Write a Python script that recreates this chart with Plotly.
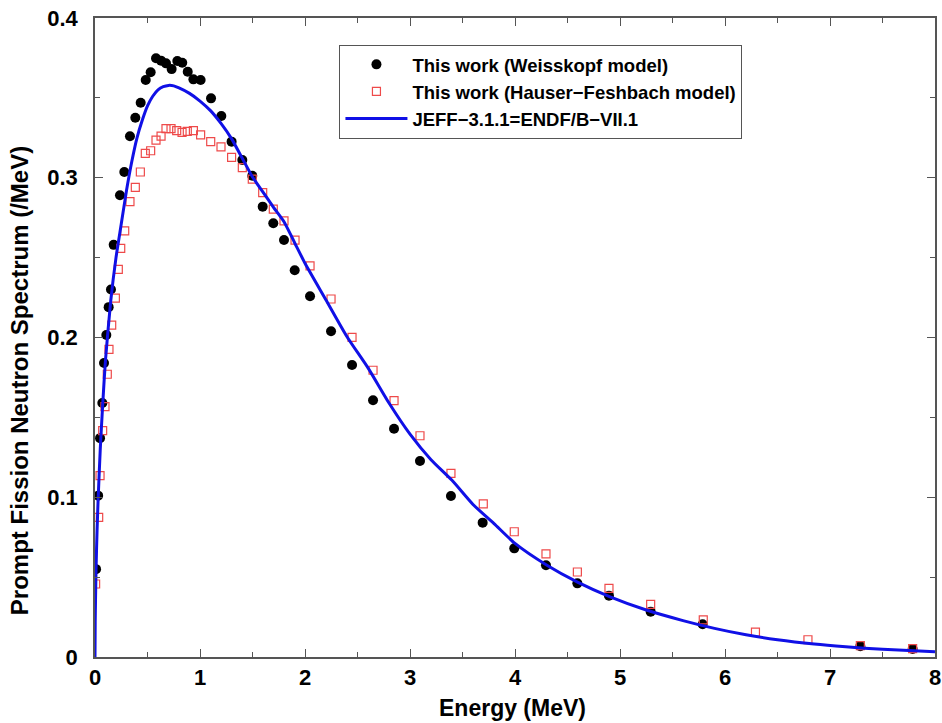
import plotly.graph_objects as go

# Weisskopf model (black dots)
weis_e = [0.01, 0.03, 0.048, 0.07, 0.086, 0.108, 0.13, 0.152, 0.178, 0.238, 0.279, 0.333,
          0.384, 0.435, 0.483, 0.530, 0.581, 0.629, 0.676, 0.730, 0.784, 0.831, 0.883, 0.937,
          1.006, 1.105, 1.203, 1.301, 1.403, 1.498, 1.597, 1.698, 1.8, 1.902, 2.048, 2.248,
          2.448, 2.648, 2.848, 3.095, 3.39, 3.692, 3.993, 4.295, 4.594, 4.895, 5.292, 5.787,
          7.289, 7.787]
weis_v = [0.055, 0.101, 0.137, 0.159, 0.184, 0.2016, 0.219, 0.230, 0.258, 0.289, 0.3036, 0.326,
          0.3376, 0.347, 0.3612, 0.366, 0.3748, 0.3733, 0.3716, 0.368, 0.3731, 0.372, 0.3664, 0.3616,
          0.3612, 0.3497, 0.3387, 0.3226, 0.3111, 0.3013, 0.2819, 0.2715, 0.261, 0.2421, 0.2258, 0.2039,
          0.1828, 0.1607, 0.1429, 0.1227, 0.1008, 0.0841, 0.068, 0.0574, 0.0461, 0.0384, 0.0284, 0.0205,
          0.0068, 0.0050]

# Hauser-Feshbach model (open red squares)
hf_e = [0.006, 0.035, 0.048, 0.073, 0.095, 0.117, 0.133, 0.159, 0.194, 0.222, 0.245, 0.283,
        0.333, 0.384, 0.432, 0.479, 0.530, 0.581, 0.629, 0.676, 0.724, 0.778, 0.829, 0.879,
        0.937, 1.006, 1.102, 1.2, 1.301, 1.403, 1.498, 1.597, 1.698, 1.8, 1.905, 2.048,
        2.248, 2.448, 2.648, 2.848, 3.095, 3.39, 3.698, 3.993, 4.295, 4.594, 4.895, 5.292,
        5.793, 6.29, 6.79, 7.289, 7.787]
hf_v = [0.0457, 0.0874, 0.1135, 0.1417, 0.1567, 0.177, 0.1926, 0.2078, 0.2247, 0.2427, 0.2558, 0.2667,
        0.285, 0.294, 0.3036, 0.3153, 0.3169, 0.3236, 0.3261, 0.3307, 0.3307, 0.3295, 0.3284, 0.329,
        0.3295, 0.3268, 0.3226, 0.3193, 0.3128, 0.3063, 0.2992, 0.2907, 0.2803, 0.273, 0.261, 0.2448,
        0.2241, 0.2001, 0.1795, 0.1605, 0.1385, 0.115, 0.0958, 0.0784, 0.0645, 0.0532, 0.043, 0.033,
        0.0232, 0.0156, 0.0108, 0.0071, 0.0052]

# JEFF-3.1.1 = ENDF/B-VII.1 evaluation (blue line)
jeff_e = [0.0, 0.002, 0.005, 0.01, 0.02, 0.03, 0.05, 0.075, 0.1, 0.15, 0.2, 0.25, 0.3, 0.35,
          0.4, 0.45, 0.5, 0.55, 0.6, 0.65, 0.7, 0.75, 0.8, 0.9, 1.0, 1.1, 1.2, 1.3, 1.4, 1.5,
          1.6, 1.7, 1.8, 1.9, 2.0, 2.2, 2.4, 2.6, 2.8, 3.0, 3.2, 3.4, 3.6, 3.8, 4.0, 4.3, 4.6,
          4.9, 5.25, 5.6, 5.9, 6.2, 6.5, 6.85, 7.15, 7.5, 8.0]
jeff_v = [0.0, 0.022, 0.036, 0.055, 0.080, 0.099, 0.130, 0.160, 0.186, 0.223, 0.250, 0.271, 0.292, 0.310,
          0.325, 0.336, 0.345, 0.351, 0.355, 0.357, 0.3578, 0.3575, 0.3562, 0.3528, 0.348, 0.342, 0.334, 0.3245,
          0.3125, 0.3005, 0.291, 0.2815, 0.2725, 0.2595, 0.2465, 0.2235, 0.2005, 0.181, 0.159, 0.1395,
          0.1235, 0.1106, 0.0955, 0.0835, 0.0711, 0.0576, 0.0467, 0.0378, 0.0294, 0.0228, 0.0179, 0.0139,
          0.0108, 0.0081, 0.0064, 0.0048, 0.0033]

x_title = "Energy (MeV)"
y_title = "Prompt Fission Neutron Spectrum (/MeV)"

FONT = "Liberation Sans, Arial, Helvetica, sans-serif"

fig = go.Figure()
fig.add_trace(go.Scatter(
    x=weis_e, y=weis_v, mode="markers", name="This work (Weisskopf model)",
    marker=dict(symbol="circle", size=10, color="black", line=dict(width=0)),
))
fig.add_trace(go.Scatter(
    x=hf_e, y=hf_v, mode="markers", name="This work (Hauser−Feshbach model)",
    marker=dict(symbol="square-open", size=8, color="#ee4a4a", line=dict(width=1.2)),
))
fig.add_trace(go.Scatter(
    x=jeff_e, y=jeff_v, mode="lines", name="JEFF−3.1.1=ENDF/B−VII.1",
    line=dict(color="#1010e6", width=3, shape="spline", smoothing=0.6),
))

axis_common = dict(
    showgrid=False, zeroline=False, showline=True, linecolor="#555555", linewidth=1.5,
    mirror="ticks", ticks="inside", ticklen=8, tickwidth=1.2, tickcolor="#555555",
    tickfont=dict(family=FONT, size=22, color="black", weight="bold"),
    automargin=False,
)

fig.update_xaxes(
    range=[0, 8], dtick=1, tick0=0, ticklabelstandoff=0,
    minor=dict(dtick=0.5, ticks="inside", ticklen=5, tickcolor="#555555", showgrid=False),
    **axis_common,
)
fig.update_yaxes(
    range=[0, 0.4], dtick=0.1, tick0=0, ticklabelstandoff=11,
    minor=dict(dtick=0.05, ticks="inside", ticklen=5, tickcolor="#555555", showgrid=False),
    **axis_common,
)

fig.add_annotation(
    text=x_title, xref="paper", yref="paper", x=0.4976, y=-0.0798,
    xanchor="center", yanchor="middle", showarrow=False,
    font=dict(family=FONT, size=23, color="black", weight="bold"),
)
fig.add_annotation(
    text=y_title, xref="paper", yref="paper", x=-0.089, y=0.432, textangle=-90,
    xanchor="center", yanchor="middle", showarrow=False,
    font=dict(family=FONT, size=24, color="black", weight="bold"),
)

fig.update_layout(
    width=942, height=723,
    margin=dict(l=95, r=7, t=18, b=66),
    paper_bgcolor="white", plot_bgcolor="white",
    font=dict(family=FONT, color="black"),
    showlegend=True,
    legend=dict(
        x=0.291, y=0.958, xanchor="left", yanchor="top",
        bgcolor="white", bordercolor="#555555", borderwidth=1,
        font=dict(family=FONT, size=18.5, color="black", weight="bold"),
        itemwidth=62, tracegroupgap=0,
    ),
)

fig.write_html("out.html")
